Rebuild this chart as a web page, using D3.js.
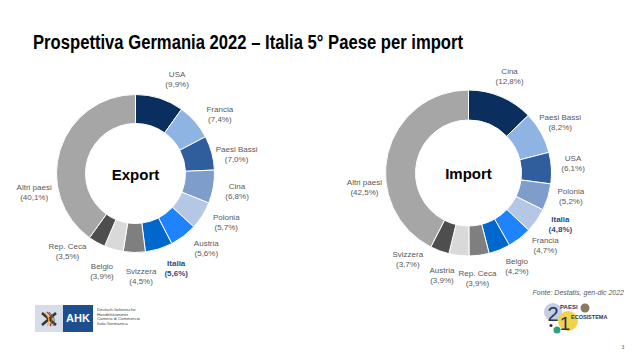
<!DOCTYPE html>
<html><head><meta charset="utf-8">
<script src="https://cdn.jsdelivr.net/npm/d3@7"></script>
<style>
html,body{margin:0;padding:0;background:#fff;}
svg{display:block;font-family:"Liberation Sans",Arial,sans-serif;}
</style></head>
<body>
<svg id="c" width="640" height="360"></svg>
<script>
// ---- data ----
const exportCountries = ["USA","Francia","Paesi Bassi","Cina","Polonia","Austria","Italia","Svizzera","Belgio","Rep. Ceca","Altri paesi"];
const exportShares    = [9.9, 7.4, 7.0, 6.8, 5.7, 5.6, 5.6, 4.5, 3.9, 3.5, 40.1];
const importCountries = ["Cina","Paesi Bassi","USA","Polonia","Italia","Francia","Belgio","Rep. Ceca","Austria","Svizzera","Altri paesi"];
const importShares    = [12.8, 8.2, 6.1, 5.2, 4.8, 4.7, 4.2, 3.9, 3.9, 3.7, 42.5];
const titleText = "Prospettiva Germania 2022 – Italia 5° Paese per import";
const sourceText = "Fonte: Destatis, gen-dic 2022";

// ---- style / layout ----
const sliceColors = ["#0a2f5e","#8db4e2","#2f5d9e","#7e9dcb","#b4c7e4","#1f83fd","#0068cc","#7f7f7f","#d9d9d9","#4e4e4e","#a6a6a6"];
const exportNudge = [6,6,4,0,-4,-6,-6,-4,3,12,-28];
const importNudge = [0,0,-2,-4,-6,-9,-5.5,2.5,8,15,-21];

const svg = d3.select("#c");

svg.append("text").attr("x",33).attr("y",49)
  .attr("font-size",20).attr("font-weight","bold").attr("fill","#000")
  .attr("textLength",430).attr("lengthAdjust","spacingAndGlyphs")
  .text(titleText);

function donut(names, values, nudges, cx, cy, rOut, rIn, labelDist, centerLabel) {
  const g = svg.append("g").attr("transform",`translate(${cx},${cy})`);
  const pie = d3.pie().sort(null).value(d=>d)(values);
  const arc = d3.arc().innerRadius(rIn).outerRadius(rOut);
  g.selectAll("path").data(pie).join("path")
    .attr("d",arc).attr("fill",(d,i)=>sliceColors[i])
    .attr("stroke","#fff").attr("stroke-width",1);
  const fmt = v => "(" + d3.format(".1f")(v).replace(".",",") + "%)";
  pie.forEach((d,i)=>{
    const a = (d.startAngle+d.endAngle)/2 + nudges[i]*Math.PI/180;
    const x = Math.sin(a)*labelDist, y = -Math.cos(a)*labelDist;
    const isIt = names[i]==="Italia";
    const t = g.append("text").attr("text-anchor","middle").attr("font-size",8)
      .attr("fill", isIt ? "#1f4e8c" : "#595959")
      .attr("font-weight", isIt ? "bold" : "normal");
    t.append("tspan").attr("x",x).attr("y",y-2).text(names[i]);
    t.append("tspan").attr("x",x).attr("y",y+8).text(fmt(values[i]));
  });
  g.append("text").attr("text-anchor","middle").attr("y",6)
    .attr("font-size",15).attr("font-weight","bold").attr("fill","#000")
    .text(centerLabel);
}

donut(exportCountries, exportShares, exportNudge, 135.5, 173.5, 79, 50, 103, "Export");
donut(importCountries, importShares, importNudge, 468.5, 173, 83, 53, 105, "Import");

svg.append("text").attr("x",624).attr("y",295).attr("text-anchor","end")
  .attr("font-size",7).attr("font-style","italic").attr("fill","#595959").text(sourceText);

// AHK logo
const ahk = svg.append("g");
ahk.append("rect").attr("x",35).attr("y",305).attr("width",28).attr("height",27).attr("fill","#d6dde8");
ahk.append("rect").attr("x",63).attr("y",305).attr("width",30).attr("height",27).attr("fill","#1d4f8f");
ahk.append("path").attr("d","M42,313 L56,325 M42,325 L56,313").attr("stroke","#333").attr("stroke-width",2.5);
ahk.append("path").attr("d","M47,312 Q55,318 50,326").attr("fill","none").attr("stroke","#c8312b").attr("stroke-width",1.5);
ahk.append("path").attr("d","M45,313 Q52,319 47,326").attr("fill","none").attr("stroke","#e7b43a").attr("stroke-width",1.2);
ahk.append("path").attr("d","M49,312 Q57,318 53,326").attr("fill","none").attr("stroke","#3a8a3a").attr("stroke-width",1);
ahk.append("text").attr("x",78).attr("y",322).attr("text-anchor","middle").attr("font-size",11)
  .attr("font-weight","bold").attr("fill","#fff").text("AHK");
["Deutsch-Italienische","Handelskammer","Camera di Commercio","Italo-Germanica"].forEach((s,i)=>{
  ahk.append("text").attr("x",97).attr("y",311+i*4.7).attr("font-size",4.3).attr("fill","#444").text(s);
});

// Paesi Ecosistema logo
const pl = svg.append("g");
pl.append("circle").attr("cx",553).attr("cy",312).attr("r",9).attr("fill","#c5cde0");
pl.append("circle").attr("cx",585).attr("cy",308).attr("r",4.5).attr("fill","#8a7a62");
pl.append("circle").attr("cx",568).attr("cy",321).attr("r",10).attr("fill","#f2d24a");
pl.append("circle").attr("cx",557).attr("cy",330).attr("r",3.5).attr("fill","#2aa37a");
pl.append("circle").attr("cx",551).attr("cy",325.5).attr("r",1.5).attr("fill","#1b2f4a");
pl.append("text").attr("x",553).attr("y",321).attr("text-anchor","middle").attr("font-size",20).attr("fill","#1e3560").text("2");
pl.append("text").attr("x",565).attr("y",330).attr("text-anchor","middle").attr("font-size",19).attr("fill","#1e3560").text("1");
pl.append("text").attr("x",560).attr("y",309).attr("font-size",6).attr("font-weight","bold").attr("fill","#1e3560").text("PAESI");
pl.append("text").attr("x",571).attr("y",319).attr("font-size",5.5).attr("font-weight","bold").attr("fill","#1e3560").text("ECOSISTEMA");

svg.append("text").attr("x",623).attr("y",349).attr("text-anchor","middle").attr("font-size",5).attr("fill","#555").text("3");
</script>
</body></html>
